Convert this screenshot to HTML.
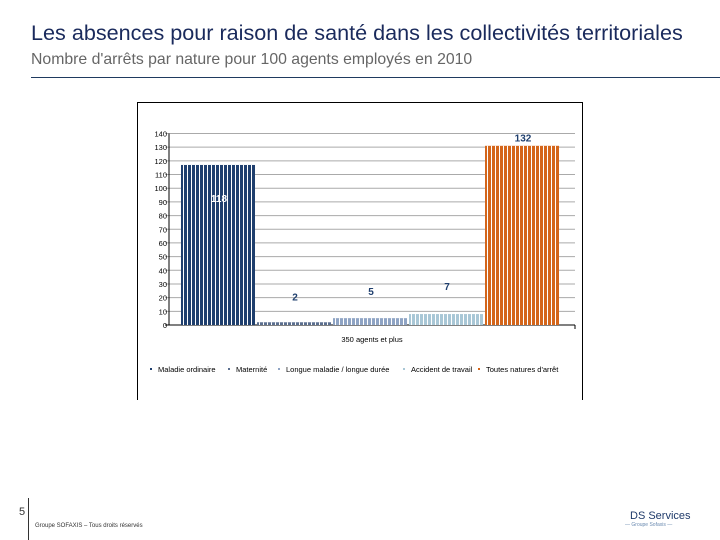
<!DOCTYPE html>
<html><head><meta charset="utf-8"><style>
body{margin:0;width:720px;height:540px;background:#fff;position:relative;overflow:hidden;font-family:"Liberation Sans",sans-serif}
.t{position:absolute;white-space:nowrap}
</style></head><body>
<div class="t" style="left:31px;top:20px;font-size:21.6px;color:#1a2a5c">Les absences pour raison de santé dans les collectivités territoriales</div>
<div class="t" style="left:31px;top:51px;font-size:15.8px;color:#666">Nombre d'arrêts par nature pour 100 agents employés en 2010</div>
<div style="position:absolute;left:31px;top:77px;width:689px;height:1px;background:#1f3a5f"></div>
<div style="position:absolute;left:137px;top:102px;width:446px;height:298px;border:1px solid #000;border-bottom:none;box-sizing:border-box"></div>
<svg id="chart" width="720" height="540" style="position:absolute;left:0;top:0">
<defs>
<pattern id="stripes" width="4" height="10" patternUnits="userSpaceOnUse"><rect x="3" width="1" height="10" fill="#fff"/></pattern>
</defs>
</svg>
<div class="t" style="left:19px;top:506px;font-size:11px;color:#333">5</div>
<div style="position:absolute;left:28px;top:498px;width:1px;height:42px;background:#333"></div>
<div class="t" style="left:35px;top:523px;font-size:6px;color:#333">Groupe SOFAXIS – Tous droits réservés</div>
<div class="t" style="left:630px;top:510px;font-size:11px;color:#1f3a6a">DS Services</div>
<div class="t" style="left:625px;top:522px;font-size:5px;color:#6a8ab0">— Groupe Sofaxis —</div>
<script>
const categories=["Maladie ordinaire","Maternité","Longue maladie / longue durée","Accident de travail","Toutes natures d'arrêt"];
const values=[117,2,5,8,131];
const labels=["118","2","5","7","132"];
const ticks=[0,10,20,30,40,50,60,70,80,90,100,110,120,130,140];
const colors=["#1f3f6e","#5b6f8f","#8fa4c4","#a9c7d6","#d4651a"];
const svg=document.getElementById('chart');
const NS='http://www.w3.org/2000/svg';
const x0=169,x1=575,yb=325,yt=133.5,vmax=140;
const y=v=>yb-(yb-yt)*v/vmax;
function mk(t,a){const e=document.createElementNS(NS,t);for(const k in a)e.setAttribute(k,a[k]);svg.appendChild(e);return e;}
ticks.forEach(tk=>{
 const l=mk('line',{x1:x0-4,x2:x1,y1:y(tk),y2:y(tk),stroke:tk===0?'#000':'#aaa','stroke-width':1});
 
 
 const t=mk('text',{x:x0-2,y:y(tk)+3,'text-anchor':'end','font-size':7.5,fill:'#000','font-family':'Liberation Sans'});
 t.textContent=tk;
 
 
});
mk('line',{x1:x0,x2:x0,y1:yt,y2:yb,stroke:'#000'});
mk('line',{x1:x1,x2:x1,y1:yb,y2:yb+4,stroke:'#000'});
const bw=76,bstart=181;
categories.forEach((c,i)=>{
 const bx=bstart+i*bw,h=yb-y(values[i]);
 const r=mk('rect',{x:bx,y:y(values[i]),width:bw-2,height:h,fill:colors[i]});
 
 
 mk('rect',{x:bx,y:y(values[i]),width:bw-2,height:h,fill:'url(#stripes)'});
 const lv=parseFloat(labels[i]);
 const ly=i===0?y(values[i])+37:(i===4?y(lv)-3:y(values[i])-21-i);
 const t=mk('text',{x:bx+bw/2,y:ly,'text-anchor':'middle','font-size':10,'font-weight':'bold',fill:i===0?'#fff':'#1f3f6e','font-family':'Liberation Sans'});
 t.textContent=labels[i];
 
 
});
const xt=mk('text',{x:(x0+x1)/2,y:342,'text-anchor':'middle','font-size':7.5,'font-family':'Liberation Sans'});
xt.textContent='350 agents et plus';


const lx=[150,228,278,403,478];
categories.forEach((c,i)=>{
 const s=mk('rect',{x:lx[i],y:368,width:2,height:2,fill:colors[i]});
 
 
 const t=mk('text',{x:lx[i]+8,y:372,'font-size':7.5,'font-family':'Liberation Sans'});
 t.textContent=c;
 
 
});
</script>
</body></html>
